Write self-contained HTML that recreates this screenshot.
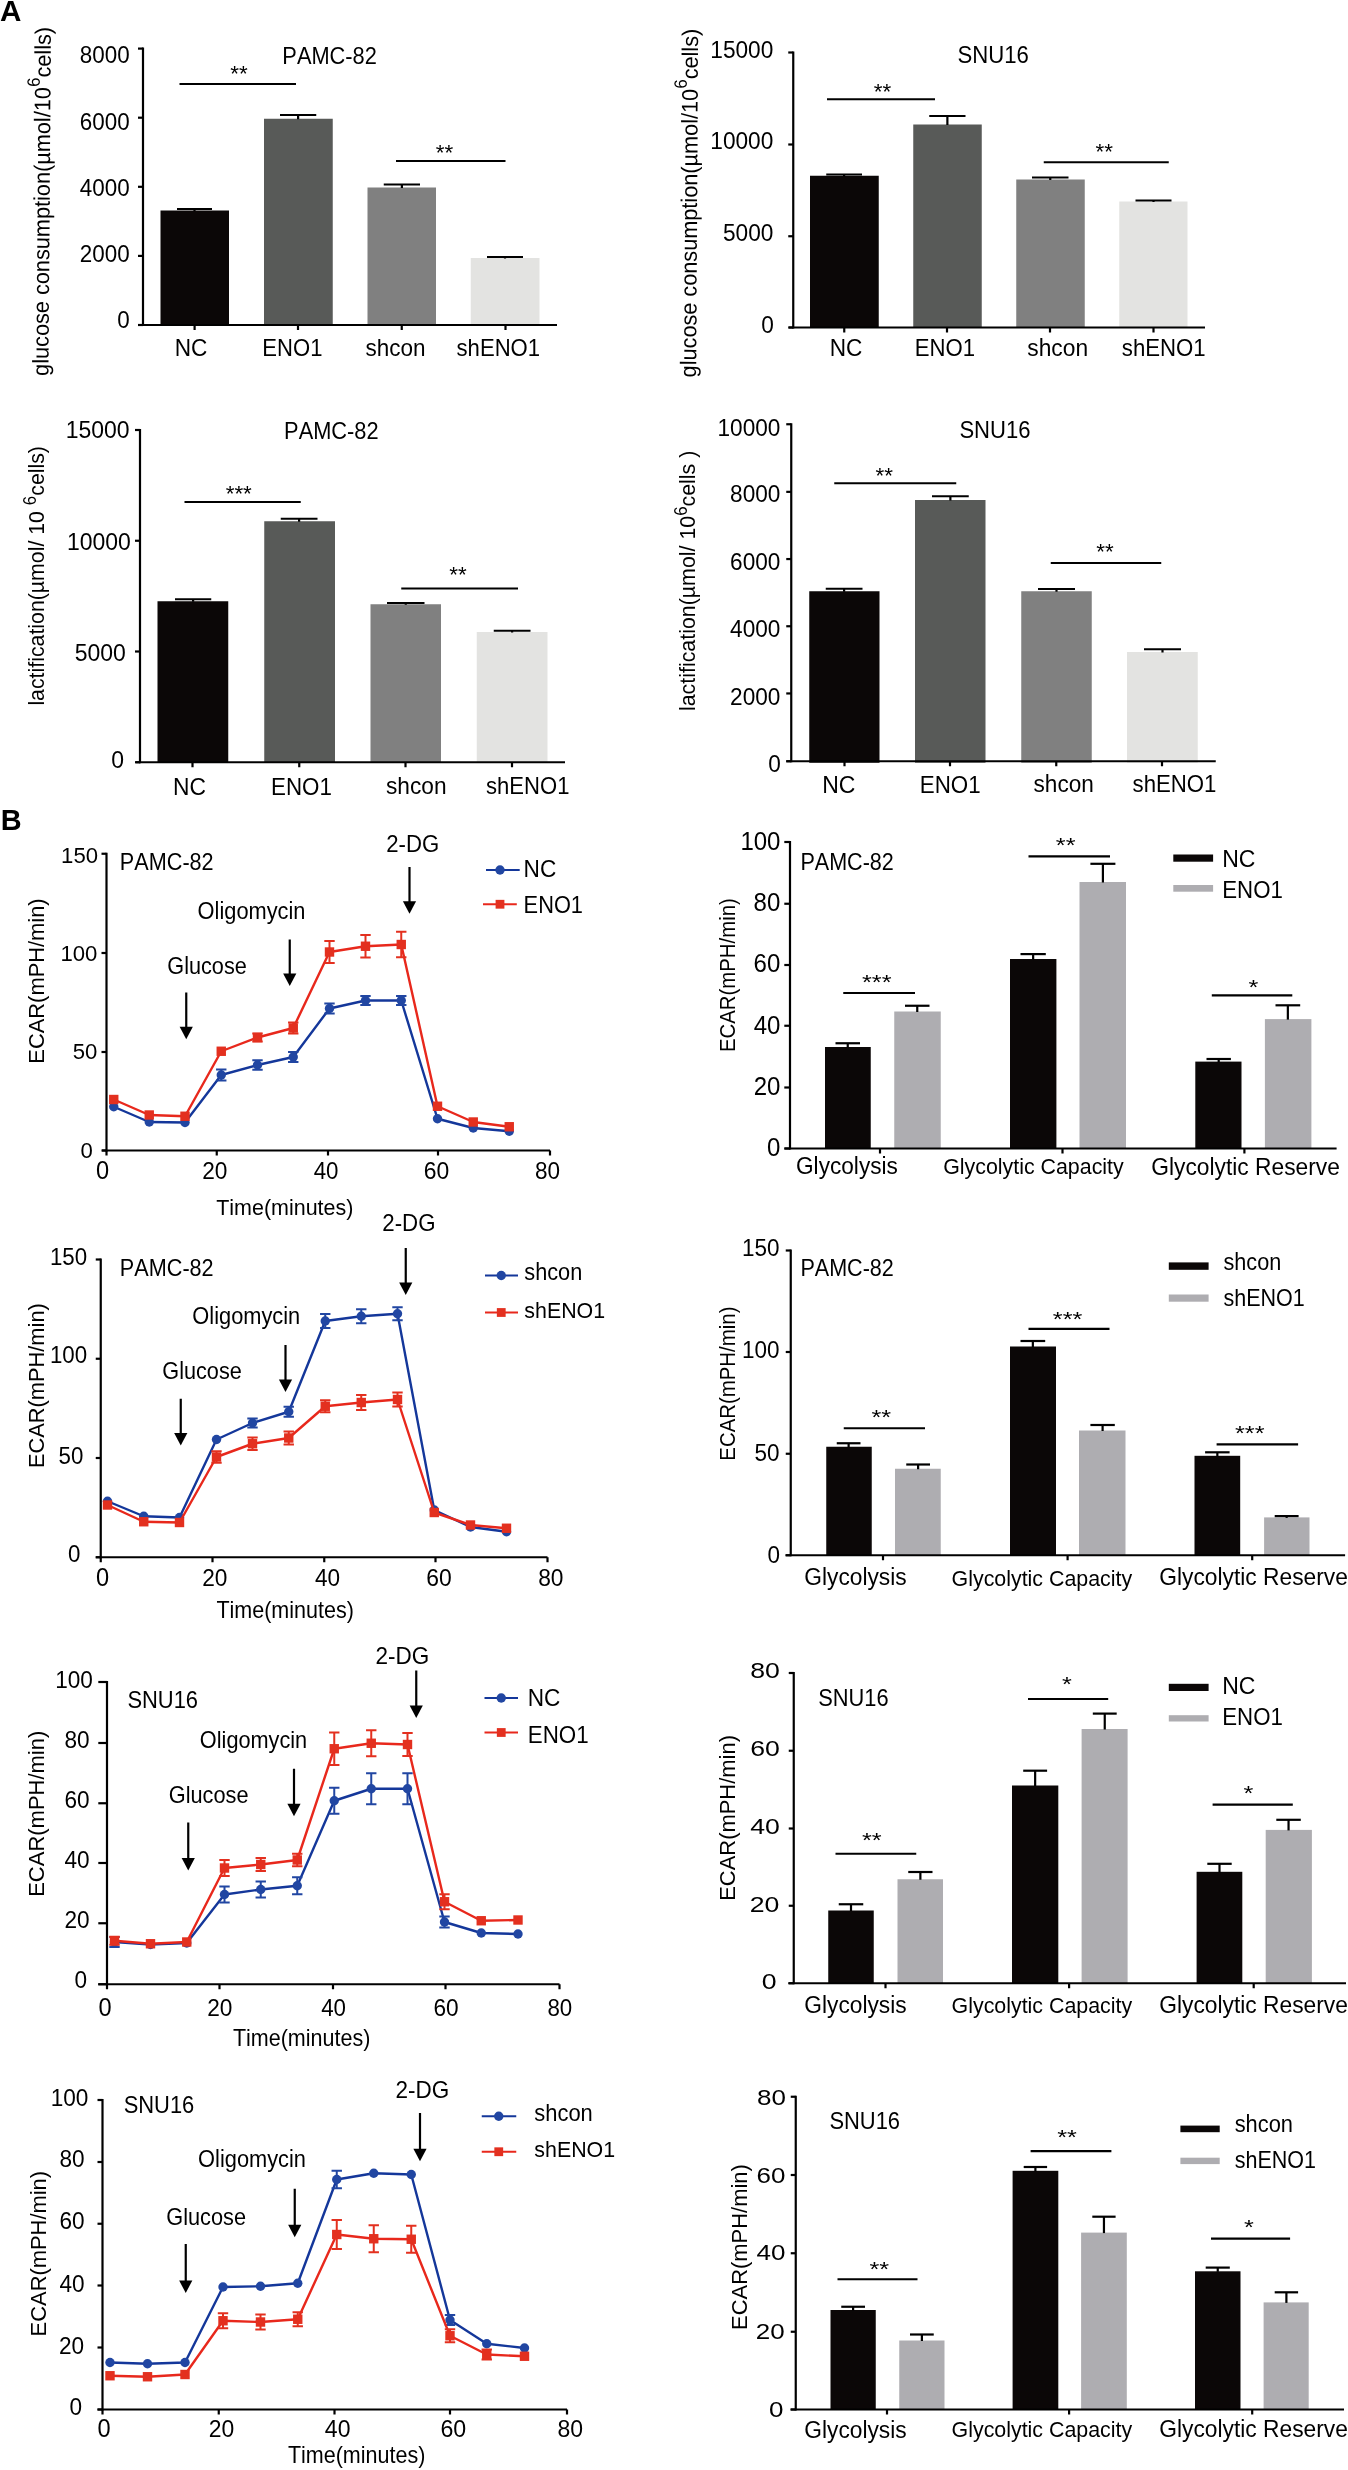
<!DOCTYPE html>
<html><head><meta charset="utf-8"><title>ENO1 glycolysis figure</title>
<style>
html,body{margin:0;padding:0;background:#fff;}
svg{display:block;}
text{font-family:"Liberation Sans",sans-serif;font-kerning:none;}
svg{will-change:transform;}
</style></head><body>
<svg width="1348" height="2470" viewBox="0 0 1348 2470"><rect width="1348" height="2470" fill="#fff"/><text x="-0.04" y="21.3" font-size="29.6" font-weight="bold" fill="#000">A</text>
<text x="0.67" y="830.3" font-size="28.9" font-weight="bold" fill="#000">B</text>
<rect x="160.5" y="210.5" width="68.5" height="114.5" fill="#0b0707"/>
<rect x="264" y="118.75" width="68.75" height="206.25" fill="#585a58"/>
<rect x="367.5" y="187.5" width="68.5" height="137.5" fill="#808080"/>
<rect x="470.75" y="258" width="68.75" height="67" fill="#e3e3e1"/>
<line x1="177" y1="209" x2="212" y2="209" stroke="#000" stroke-width="2.2"/>
<line x1="194.5" y1="209" x2="194.5" y2="211" stroke="#000" stroke-width="2.2"/>
<line x1="280" y1="115" x2="316.25" y2="115" stroke="#000" stroke-width="2.2"/>
<line x1="298.12" y1="115" x2="298.12" y2="119.25" stroke="#000" stroke-width="2.2"/>
<line x1="383.75" y1="184.5" x2="420" y2="184.5" stroke="#000" stroke-width="2.2"/>
<line x1="401.88" y1="184.5" x2="401.88" y2="188" stroke="#000" stroke-width="2.2"/>
<line x1="487" y1="257" x2="523" y2="257" stroke="#000" stroke-width="2.2"/>
<line x1="505" y1="257" x2="505" y2="258.5" stroke="#000" stroke-width="2.2"/>
<line x1="143" y1="47.5" x2="143" y2="326.1" stroke="#000" stroke-width="2.2"/>
<line x1="138.4" y1="325" x2="557" y2="325" stroke="#000" stroke-width="2.2"/>
<line x1="138" y1="48.6" x2="143" y2="48.6" stroke="#000" stroke-width="2.2"/>
<line x1="138" y1="117.7" x2="143" y2="117.7" stroke="#000" stroke-width="2.2"/>
<line x1="138" y1="186.8" x2="143" y2="186.8" stroke="#000" stroke-width="2.2"/>
<line x1="138" y1="255.9" x2="143" y2="255.9" stroke="#000" stroke-width="2.2"/>
<line x1="138" y1="325" x2="143" y2="325" stroke="#000" stroke-width="2.2"/>
<line x1="194.6" y1="325" x2="194.6" y2="330" stroke="#000" stroke-width="2.2"/>
<line x1="298" y1="325" x2="298" y2="330" stroke="#000" stroke-width="2.2"/>
<line x1="401.75" y1="325" x2="401.75" y2="330" stroke="#000" stroke-width="2.2"/>
<line x1="505.5" y1="325" x2="505.5" y2="330" stroke="#000" stroke-width="2.2"/>
<text transform="translate(79.84 63.4) scale(1.0000 1.0700)" font-size="22.4" fill="#000">8000</text>
<text transform="translate(79.84 129.7) scale(1.0000 1.0700)" font-size="22.4" fill="#000">6000</text>
<text transform="translate(79.84 196.2) scale(1.0000 1.0700)" font-size="22.4" fill="#000">4000</text>
<text transform="translate(79.84 262.3) scale(1.0000 1.0700)" font-size="22.4" fill="#000">2000</text>
<text transform="translate(117.22 328.4) scale(1.0000 1.0700)" font-size="22.4" fill="#000">0</text>
<text transform="translate(174.79 355.75) scale(1.0000 1.0700)" font-size="22.62" fill="#000">NC</text>
<text transform="translate(262.34 355.75) scale(1.0000 1.0700)" font-size="22.07" fill="#000">ENO1</text>
<text transform="translate(365.52 355.75) scale(1.0000 1.0700)" font-size="22.5" fill="#000">shcon</text>
<text transform="translate(456.53 355.75) scale(1.0000 1.0700)" font-size="22.13" fill="#000">shENO1</text>
<line x1="179.5" y1="84" x2="296" y2="84" stroke="#000" stroke-width="2.2"/>
<text transform="translate(239 65.9) scale(1.000 1.000)" x="-8.72" y="15.41" font-size="22.4" fill="#000">**</text>
<line x1="396" y1="161" x2="505.5" y2="161" stroke="#000" stroke-width="2.2"/>
<text transform="translate(444.5 144.4) scale(1.000 1.000)" x="-8.72" y="15.41" font-size="22.4" fill="#000">**</text>
<text transform="translate(282.36 64.25) scale(1.0000 1.0700)" font-size="21.82" fill="#000">PAMC-82</text>
<text transform="translate(48.4 375) rotate(-89.580) scale(0.9564 1)" x="-0.95" y="0" fill="#000"><tspan font-size="22.7">glucose consumption(µmol/10</tspan><tspan font-size="17.93" dy="-10.8">6</tspan><tspan font-size="22.7" dy="10.8">cells)</tspan></text>
<rect x="810" y="175.75" width="68.75" height="151.75" fill="#0b0707"/>
<rect x="913.25" y="124.5" width="68.5" height="203" fill="#585a58"/>
<rect x="1016.25" y="179.5" width="68.5" height="148" fill="#808080"/>
<rect x="1119.25" y="201.5" width="68.25" height="126" fill="#e3e3e1"/>
<line x1="826.25" y1="174.5" x2="862" y2="174.5" stroke="#000" stroke-width="2.2"/>
<line x1="844.12" y1="174.5" x2="844.12" y2="176.25" stroke="#000" stroke-width="2.2"/>
<line x1="929.25" y1="116" x2="965.5" y2="116" stroke="#000" stroke-width="2.2"/>
<line x1="947.38" y1="116" x2="947.38" y2="125" stroke="#000" stroke-width="2.2"/>
<line x1="1032" y1="177.5" x2="1068.5" y2="177.5" stroke="#000" stroke-width="2.2"/>
<line x1="1050.25" y1="177.5" x2="1050.25" y2="180" stroke="#000" stroke-width="2.2"/>
<line x1="1135.5" y1="200.5" x2="1171.5" y2="200.5" stroke="#000" stroke-width="2.2"/>
<line x1="1153.5" y1="200.5" x2="1153.5" y2="202" stroke="#000" stroke-width="2.2"/>
<line x1="793.25" y1="51.4" x2="793.25" y2="328.6" stroke="#000" stroke-width="2.2"/>
<line x1="788.75" y1="327.5" x2="1205" y2="327.5" stroke="#000" stroke-width="2.2"/>
<line x1="788.25" y1="52.5" x2="793.25" y2="52.5" stroke="#000" stroke-width="2.2"/>
<line x1="788.25" y1="144.5" x2="793.25" y2="144.5" stroke="#000" stroke-width="2.2"/>
<line x1="788.25" y1="236.25" x2="793.25" y2="236.25" stroke="#000" stroke-width="2.2"/>
<line x1="788.25" y1="327.5" x2="793.25" y2="327.5" stroke="#000" stroke-width="2.2"/>
<line x1="844.25" y1="327.5" x2="844.25" y2="332.5" stroke="#000" stroke-width="2.2"/>
<line x1="947" y1="327.5" x2="947" y2="332.5" stroke="#000" stroke-width="2.2"/>
<line x1="1050" y1="327.5" x2="1050" y2="332.5" stroke="#000" stroke-width="2.2"/>
<line x1="1153.5" y1="327.5" x2="1153.5" y2="332.5" stroke="#000" stroke-width="2.2"/>
<text transform="translate(710.26 57.5) scale(1.0000 1.0700)" font-size="22.7" fill="#000">15000</text>
<text transform="translate(710.26 149.25) scale(1.0000 1.0700)" font-size="22.7" fill="#000">10000</text>
<text transform="translate(722.89 240.75) scale(1.0000 1.0700)" font-size="22.7" fill="#000">5000</text>
<text transform="translate(761.26 332.5) scale(1.0000 1.0700)" font-size="22.7" fill="#000">0</text>
<text transform="translate(829.79 355.5) scale(1.0000 1.0700)" font-size="22.62" fill="#000">NC</text>
<text transform="translate(914.83 355.5) scale(1.0000 1.0700)" font-size="22.16" fill="#000">ENO1</text>
<text transform="translate(1027.27 355.5) scale(1.0000 1.0700)" font-size="22.79" fill="#000">shcon</text>
<text transform="translate(1121.78 355.5) scale(1.0000 1.0700)" font-size="22.2" fill="#000">shENO1</text>
<line x1="827" y1="99.25" x2="935" y2="99.25" stroke="#000" stroke-width="2.2"/>
<text transform="translate(882.5 83.4) scale(1.000 1.000)" x="-8.72" y="15.41" font-size="22.4" fill="#000">**</text>
<line x1="1043.75" y1="162.25" x2="1168.75" y2="162.25" stroke="#000" stroke-width="2.2"/>
<text transform="translate(1104.25 143.9) scale(1.000 1.000)" x="-8.72" y="15.41" font-size="22.4" fill="#000">**</text>
<text transform="translate(957.39 63) scale(1.0000 1.0700)" font-size="22.16" fill="#000">SNU16</text>
<text transform="translate(696.1 376.5) rotate(-89.670) scale(0.9561 1)" x="-0.95" y="0" fill="#000"><tspan font-size="22.7">glucose consumption(µmol/10</tspan><tspan font-size="17.93" dy="-11">6</tspan><tspan font-size="22.7" dy="11">cells)</tspan></text>
<rect x="157.5" y="601.25" width="70.75" height="161" fill="#0b0707"/>
<rect x="264.25" y="521.25" width="70.75" height="241" fill="#585a58"/>
<rect x="370.5" y="604.25" width="70.5" height="158" fill="#808080"/>
<rect x="476.75" y="632" width="70.75" height="130.25" fill="#e3e3e1"/>
<line x1="175" y1="599.25" x2="211.25" y2="599.25" stroke="#000" stroke-width="2.2"/>
<line x1="193.12" y1="599.25" x2="193.12" y2="601.75" stroke="#000" stroke-width="2.2"/>
<line x1="280.75" y1="518.75" x2="317.5" y2="518.75" stroke="#000" stroke-width="2.2"/>
<line x1="299.12" y1="518.75" x2="299.12" y2="521.75" stroke="#000" stroke-width="2.2"/>
<line x1="387" y1="603" x2="424.5" y2="603" stroke="#000" stroke-width="2.2"/>
<line x1="405.75" y1="603" x2="405.75" y2="604.75" stroke="#000" stroke-width="2.2"/>
<line x1="493.75" y1="630.75" x2="530.5" y2="630.75" stroke="#000" stroke-width="2.2"/>
<line x1="512.12" y1="630.75" x2="512.12" y2="632.5" stroke="#000" stroke-width="2.2"/>
<line x1="140" y1="428.9" x2="140" y2="763.35" stroke="#000" stroke-width="2.2"/>
<line x1="135.75" y1="762.25" x2="565" y2="762.25" stroke="#000" stroke-width="2.2"/>
<line x1="135" y1="430" x2="140" y2="430" stroke="#000" stroke-width="2.2"/>
<line x1="135" y1="540.75" x2="140" y2="540.75" stroke="#000" stroke-width="2.2"/>
<line x1="135" y1="651.5" x2="140" y2="651.5" stroke="#000" stroke-width="2.2"/>
<line x1="135" y1="762.25" x2="140" y2="762.25" stroke="#000" stroke-width="2.2"/>
<line x1="192.5" y1="762.25" x2="192.5" y2="767.25" stroke="#000" stroke-width="2.2"/>
<line x1="299.25" y1="762.25" x2="299.25" y2="767.25" stroke="#000" stroke-width="2.2"/>
<line x1="405.5" y1="762.25" x2="405.5" y2="767.25" stroke="#000" stroke-width="2.2"/>
<line x1="512" y1="762.25" x2="512" y2="767.25" stroke="#000" stroke-width="2.2"/>
<text transform="translate(65.69 437.5) scale(1.0000 1.0700)" font-size="23" fill="#000">15000</text>
<text transform="translate(66.94 549.5) scale(1.0000 1.0700)" font-size="23" fill="#000">10000</text>
<text transform="translate(74.73 661.25) scale(1.0000 1.0700)" font-size="23" fill="#000">5000</text>
<text transform="translate(111.36 767.5) scale(1.0000 1.0700)" font-size="23" fill="#000">0</text>
<text transform="translate(173.03 794.5) scale(1.0000 1.0700)" font-size="22.81" fill="#000">NC</text>
<text transform="translate(271.07 794.5) scale(1.0000 1.0700)" font-size="22.35" fill="#000">ENO1</text>
<text transform="translate(386.02 793.75) scale(1.0000 1.0700)" font-size="22.69" fill="#000">shcon</text>
<text transform="translate(486.04 793.75) scale(1.0000 1.0700)" font-size="22.07" fill="#000">shENO1</text>
<line x1="184.5" y1="502" x2="300.75" y2="502" stroke="#000" stroke-width="2.2"/>
<text transform="translate(238.75 485.15) scale(1.000 1.000)" x="-13.08" y="15.41" font-size="22.4" fill="#000">***</text>
<line x1="401.25" y1="588.5" x2="518" y2="588.5" stroke="#000" stroke-width="2.2"/>
<text transform="translate(458 566.9) scale(1.000 1.000)" x="-8.72" y="15.41" font-size="22.4" fill="#000">**</text>
<text transform="translate(284.11 438.75) scale(1.0000 1.0700)" font-size="21.82" fill="#000">PAMC-82</text>
<text transform="translate(44.2 704.2) rotate(-90.000) scale(0.9559 1)" x="-1.5" y="0" fill="#000"><tspan font-size="22.3">lactification(µmol/ 10 </tspan><tspan font-size="17.62" dy="-8.6">6</tspan><tspan font-size="22.3" dy="8.6">cells)</tspan></text>
<rect x="809.25" y="591.25" width="70.25" height="171.5" fill="#0b0707"/>
<rect x="915" y="500" width="70.5" height="262.75" fill="#585a58"/>
<rect x="1021.25" y="591.25" width="70.5" height="171.5" fill="#808080"/>
<rect x="1127" y="652" width="70.75" height="110.75" fill="#e3e3e1"/>
<line x1="825.75" y1="588.75" x2="862.5" y2="588.75" stroke="#000" stroke-width="2.2"/>
<line x1="844.12" y1="588.75" x2="844.12" y2="591.75" stroke="#000" stroke-width="2.2"/>
<line x1="932" y1="496.25" x2="968.75" y2="496.25" stroke="#000" stroke-width="2.2"/>
<line x1="950.38" y1="496.25" x2="950.38" y2="500.5" stroke="#000" stroke-width="2.2"/>
<line x1="1038" y1="589" x2="1075" y2="589" stroke="#000" stroke-width="2.2"/>
<line x1="1056.5" y1="589" x2="1056.5" y2="591.75" stroke="#000" stroke-width="2.2"/>
<line x1="1144" y1="649.25" x2="1181" y2="649.25" stroke="#000" stroke-width="2.2"/>
<line x1="1162.5" y1="649.25" x2="1162.5" y2="652.5" stroke="#000" stroke-width="2.2"/>
<line x1="791.25" y1="423.15" x2="791.25" y2="762.35" stroke="#000" stroke-width="2.2"/>
<line x1="786.25" y1="761.25" x2="1215.75" y2="761.25" stroke="#000" stroke-width="2.2"/>
<line x1="786.25" y1="424.25" x2="791.25" y2="424.25" stroke="#000" stroke-width="2.2"/>
<line x1="786.25" y1="491.85" x2="791.25" y2="491.85" stroke="#000" stroke-width="2.2"/>
<line x1="786.25" y1="559.05" x2="791.25" y2="559.05" stroke="#000" stroke-width="2.2"/>
<line x1="786.25" y1="626.25" x2="791.25" y2="626.25" stroke="#000" stroke-width="2.2"/>
<line x1="786.25" y1="693.45" x2="791.25" y2="693.45" stroke="#000" stroke-width="2.2"/>
<line x1="786.25" y1="761.25" x2="791.25" y2="761.25" stroke="#000" stroke-width="2.2"/>
<line x1="844.5" y1="761.25" x2="844.5" y2="766.25" stroke="#000" stroke-width="2.2"/>
<line x1="950" y1="761.25" x2="950" y2="766.25" stroke="#000" stroke-width="2.2"/>
<line x1="1056.25" y1="761.25" x2="1056.25" y2="766.25" stroke="#000" stroke-width="2.2"/>
<line x1="1162" y1="761.25" x2="1162" y2="766.25" stroke="#000" stroke-width="2.2"/>
<text transform="translate(717.54 436) scale(1.0000 1.0700)" font-size="22.6" fill="#000">10000</text>
<text transform="translate(730.11 502) scale(1.0000 1.0700)" font-size="22.6" fill="#000">8000</text>
<text transform="translate(730.11 569.5) scale(1.0000 1.0700)" font-size="22.6" fill="#000">6000</text>
<text transform="translate(730.11 637) scale(1.0000 1.0700)" font-size="22.6" fill="#000">4000</text>
<text transform="translate(730.11 704.5) scale(1.0000 1.0700)" font-size="22.6" fill="#000">2000</text>
<text transform="translate(768.31 772) scale(1.0000 1.0700)" font-size="22.6" fill="#000">0</text>
<text transform="translate(822.26 792.5) scale(1.0000 1.0700)" font-size="22.99" fill="#000">NC</text>
<text transform="translate(919.82 792.5) scale(1.0000 1.0700)" font-size="22.35" fill="#000">ENO1</text>
<text transform="translate(1033.52 792) scale(1.0000 1.0700)" font-size="22.6" fill="#000">shcon</text>
<text transform="translate(1132.53 792) scale(1.0000 1.0700)" font-size="22.2" fill="#000">shENO1</text>
<line x1="834.25" y1="483.25" x2="956.25" y2="483.25" stroke="#000" stroke-width="2.2"/>
<text transform="translate(884.25 467.15) scale(1.000 1.000)" x="-8.72" y="15.41" font-size="22.4" fill="#000">**</text>
<line x1="1050.75" y1="563" x2="1161.25" y2="563" stroke="#000" stroke-width="2.2"/>
<text transform="translate(1105 543.9) scale(1.000 1.000)" x="-8.72" y="15.41" font-size="22.4" fill="#000">**</text>
<text transform="translate(959.4 437.5) scale(1.0000 1.0700)" font-size="22.08" fill="#000">SNU16</text>
<text transform="translate(695 709.6) rotate(-90.000) scale(0.9592 1)" x="-1.5" y="0" fill="#000"><tspan font-size="22.3">lactification(µmol/ 10</tspan><tspan font-size="17.62" dy="-8">6</tspan><tspan font-size="22.3" dy="8">cells )</tspan></text>
<line x1="106.5" y1="852.65" x2="106.5" y2="1151.6" stroke="#000" stroke-width="2.2"/>
<line x1="102" y1="1150.5" x2="550" y2="1150.5" stroke="#000" stroke-width="2.2"/>
<line x1="101.5" y1="853.75" x2="106.5" y2="853.75" stroke="#000" stroke-width="2.2"/>
<line x1="101.5" y1="953" x2="106.5" y2="953" stroke="#000" stroke-width="2.2"/>
<line x1="101.5" y1="1052" x2="106.5" y2="1052" stroke="#000" stroke-width="2.2"/>
<line x1="101.5" y1="1150.5" x2="106.5" y2="1150.5" stroke="#000" stroke-width="2.2"/>
<line x1="106.5" y1="1150.5" x2="106.5" y2="1155.5" stroke="#000" stroke-width="2.2"/>
<line x1="216.75" y1="1150.5" x2="216.75" y2="1155.5" stroke="#000" stroke-width="2.2"/>
<line x1="328" y1="1150.5" x2="328" y2="1155.5" stroke="#000" stroke-width="2.2"/>
<line x1="438" y1="1150.5" x2="438" y2="1155.5" stroke="#000" stroke-width="2.2"/>
<line x1="550" y1="1150.5" x2="550" y2="1155.5" stroke="#000" stroke-width="2.2"/>
<text transform="translate(61.11 862.6) scale(0.9800 1.0000)" font-size="22.6" fill="#000">150</text>
<text transform="translate(60.41 961) scale(0.9800 1.0000)" font-size="22.6" fill="#000">100</text>
<text transform="translate(72.73 1059) scale(0.9800 1.0000)" font-size="22.6" fill="#000">50</text>
<text transform="translate(80.55 1157.5) scale(0.9800 1.0000)" font-size="22.6" fill="#000">0</text>
<text transform="translate(95.94 1178.5) scale(1.0000 1.0700)" font-size="23.6" fill="#000">0</text>
<text transform="translate(202.26 1178.5) scale(1.0000 1.0700)" font-size="22.68" fill="#000">20</text>
<text transform="translate(313.64 1178.5) scale(1.0000 1.0700)" font-size="22.33" fill="#000">40</text>
<text transform="translate(423.74 1178.5) scale(1.0000 1.0700)" font-size="22.93" fill="#000">60</text>
<text transform="translate(534.92 1178.5) scale(1.0000 1.0700)" font-size="22.53" fill="#000">80</text>
<text transform="translate(216.17 1215) scale(1.0000 1.0700)" font-size="21.48" fill="#000">Time(minutes)</text>
<text transform="translate(119.87 870) scale(1.0000 1.0700)" font-size="21.64" fill="#000">PAMC-82</text>
<text transform="translate(197.62 918.75) scale(1.0000 1.0700)" font-size="21.82" fill="#000">Oligomycin</text>
<text transform="translate(167.31 973.75) scale(1.0000 1.0700)" font-size="21.67" fill="#000">Glucose</text>
<text transform="translate(386.28 852) scale(1.0000 1.0700)" font-size="22.17" fill="#000">2-DG</text>
<line x1="186.25" y1="992.5" x2="186.25" y2="1027.75" stroke="#000" stroke-width="2.2"/>
<path d="M179.65 1026.75L192.85 1026.75L186.25 1039.25Z" fill="#000"/>
<line x1="289.75" y1="939.5" x2="289.75" y2="974.5" stroke="#000" stroke-width="2.2"/>
<path d="M283.15 973.5L296.35 973.5L289.75 986Z" fill="#000"/>
<line x1="409.5" y1="867" x2="409.5" y2="902.25" stroke="#000" stroke-width="2.2"/>
<path d="M402.9 901.25L416.1 901.25L409.5 913.75Z" fill="#000"/>
<polyline points="113.75,1106.75 149.25,1122 185,1122.5 221.25,1075 257.5,1065 293.25,1057 329.5,1008.5 365.5,1000.5 401.25,1000.5 437.5,1118.75 473.25,1128 509.25,1131.25" fill="none" stroke="#14379a" stroke-width="2.4" stroke-linejoin="round"/>
<circle cx="113.75" cy="1106.75" r="4.7" fill="#2146a2"/>
<circle cx="149.25" cy="1122" r="4.7" fill="#2146a2"/>
<circle cx="185" cy="1122.5" r="4.7" fill="#2146a2"/>
<path d="M221.25 1069.5V1080.5M216.05 1069.5H226.45M216.05 1080.5H226.45" stroke="#2146a2" stroke-width="2"/>
<circle cx="221.25" cy="1075" r="4.7" fill="#2146a2"/>
<path d="M257.5 1060.25V1069.75M252.3 1060.25H262.7M252.3 1069.75H262.7" stroke="#2146a2" stroke-width="2"/>
<circle cx="257.5" cy="1065" r="4.7" fill="#2146a2"/>
<path d="M293.25 1052V1062M288.05 1052H298.45M288.05 1062H298.45" stroke="#2146a2" stroke-width="2"/>
<circle cx="293.25" cy="1057" r="4.7" fill="#2146a2"/>
<path d="M329.5 1003.5V1013.5M324.3 1003.5H334.7M324.3 1013.5H334.7" stroke="#2146a2" stroke-width="2"/>
<circle cx="329.5" cy="1008.5" r="4.7" fill="#2146a2"/>
<path d="M365.5 996V1005M360.3 996H370.7M360.3 1005H370.7" stroke="#2146a2" stroke-width="2"/>
<circle cx="365.5" cy="1000.5" r="4.7" fill="#2146a2"/>
<path d="M401.25 996V1005M396.05 996H406.45M396.05 1005H406.45" stroke="#2146a2" stroke-width="2"/>
<circle cx="401.25" cy="1000.5" r="4.7" fill="#2146a2"/>
<circle cx="437.5" cy="1118.75" r="4.7" fill="#2146a2"/>
<circle cx="473.25" cy="1128" r="4.7" fill="#2146a2"/>
<circle cx="509.25" cy="1131.25" r="4.7" fill="#2146a2"/>
<polyline points="113.75,1099.5 149.25,1115 185,1116.25 221.25,1051.25 257.5,1037.5 293.25,1028 329.5,952 365.5,946.25 401.25,944.5 437.5,1106.25 473.25,1122 509.25,1126.75" fill="none" stroke="#e8281c" stroke-width="2.4" stroke-linejoin="round"/>
<rect x="109.05" y="1094.8" width="9.4" height="9.4" fill="#e3301f"/>
<rect x="144.55" y="1110.3" width="9.4" height="9.4" fill="#e3301f"/>
<rect x="180.3" y="1111.55" width="9.4" height="9.4" fill="#e3301f"/>
<rect x="216.55" y="1046.55" width="9.4" height="9.4" fill="#e3301f"/>
<path d="M257.5 1033.5V1041.5M252.3 1033.5H262.7M252.3 1041.5H262.7" stroke="#e3301f" stroke-width="2"/>
<rect x="252.8" y="1032.8" width="9.4" height="9.4" fill="#e3301f"/>
<path d="M293.25 1022.4V1033.6M288.05 1022.4H298.45M288.05 1033.6H298.45" stroke="#e3301f" stroke-width="2"/>
<rect x="288.55" y="1023.3" width="9.4" height="9.4" fill="#e3301f"/>
<path d="M329.5 941V963M324.3 941H334.7M324.3 963H334.7" stroke="#e3301f" stroke-width="2"/>
<rect x="324.8" y="947.3" width="9.4" height="9.4" fill="#e3301f"/>
<path d="M365.5 935V957.5M360.3 935H370.7M360.3 957.5H370.7" stroke="#e3301f" stroke-width="2"/>
<rect x="360.8" y="941.55" width="9.4" height="9.4" fill="#e3301f"/>
<path d="M401.25 931.75V957.25M396.05 931.75H406.45M396.05 957.25H406.45" stroke="#e3301f" stroke-width="2"/>
<rect x="396.55" y="939.8" width="9.4" height="9.4" fill="#e3301f"/>
<rect x="432.8" y="1101.55" width="9.4" height="9.4" fill="#e3301f"/>
<rect x="468.55" y="1117.3" width="9.4" height="9.4" fill="#e3301f"/>
<rect x="504.55" y="1122.05" width="9.4" height="9.4" fill="#e3301f"/>
<line x1="486" y1="870" x2="519.7" y2="870" stroke="#14379a" stroke-width="2.2"/>
<circle cx="500" cy="870" r="4.7" fill="#2146a2"/>
<text transform="translate(523.54 877.2) scale(1.0000 1.0700)" font-size="22.65" fill="#000">NC</text>
<line x1="483" y1="904.25" x2="516.8" y2="904.25" stroke="#e8281c" stroke-width="2.2"/>
<rect x="495.6" y="899.85" width="8.8" height="8.8" fill="#e3301f"/>
<text transform="translate(523.61 913) scale(1.0000 1.0700)" font-size="21.8" fill="#000">ENO1</text>
<text transform="translate(43.9 1061.9) rotate(-90.000) scale(0.9732 1)" x="-1.85" y="0" fill="#000"><tspan font-size="22.5">ECAR(mPH/min)</tspan></text>
<rect x="825" y="1047" width="45.75" height="101.5" fill="#0b0707"/>
<rect x="894.25" y="1011.5" width="46.5" height="137" fill="#aeadb1"/>
<rect x="1010" y="959" width="46.4" height="189.5" fill="#0b0707"/>
<rect x="1079.5" y="882" width="46.5" height="266.5" fill="#aeadb1"/>
<rect x="1195.3" y="1061.6" width="46.2" height="86.9" fill="#0b0707"/>
<rect x="1264.9" y="1019.1" width="46.5" height="129.4" fill="#aeadb1"/>
<line x1="835.5" y1="1043.25" x2="860" y2="1043.25" stroke="#000" stroke-width="2.2"/>
<line x1="847.75" y1="1043.25" x2="847.75" y2="1047.5" stroke="#000" stroke-width="2.2"/>
<line x1="905" y1="1005.75" x2="929.5" y2="1005.75" stroke="#000" stroke-width="2.2"/>
<line x1="917.25" y1="1005.75" x2="917.25" y2="1012" stroke="#000" stroke-width="2.2"/>
<line x1="1020.5" y1="954.1" x2="1045.8" y2="954.1" stroke="#000" stroke-width="2.2"/>
<line x1="1033.15" y1="954.1" x2="1033.15" y2="959.5" stroke="#000" stroke-width="2.2"/>
<line x1="1090.4" y1="863.8" x2="1115.4" y2="863.8" stroke="#000" stroke-width="2.2"/>
<line x1="1102.9" y1="863.8" x2="1102.9" y2="882.5" stroke="#000" stroke-width="2.2"/>
<line x1="1206.5" y1="1059" x2="1230.9" y2="1059" stroke="#000" stroke-width="2.2"/>
<line x1="1218.7" y1="1059" x2="1218.7" y2="1062.1" stroke="#000" stroke-width="2.2"/>
<line x1="1275.5" y1="1005.3" x2="1300.2" y2="1005.3" stroke="#000" stroke-width="2.2"/>
<line x1="1287.85" y1="1005.3" x2="1287.85" y2="1019.6" stroke="#000" stroke-width="2.2"/>
<line x1="790" y1="840.9" x2="790" y2="1149.6" stroke="#000" stroke-width="2.2"/>
<line x1="784.5" y1="1148.5" x2="1336.6" y2="1148.5" stroke="#000" stroke-width="2.2"/>
<line x1="784.3" y1="842" x2="790" y2="842" stroke="#000" stroke-width="2.2"/>
<line x1="784.3" y1="903.75" x2="790" y2="903.75" stroke="#000" stroke-width="2.2"/>
<line x1="784.3" y1="965" x2="790" y2="965" stroke="#000" stroke-width="2.2"/>
<line x1="784.3" y1="1025.75" x2="790" y2="1025.75" stroke="#000" stroke-width="2.2"/>
<line x1="784.3" y1="1087.5" x2="790" y2="1087.5" stroke="#000" stroke-width="2.2"/>
<line x1="784.3" y1="1148.5" x2="790" y2="1148.5" stroke="#000" stroke-width="2.2"/>
<line x1="880" y1="1148.5" x2="880" y2="1153.5" stroke="#000" stroke-width="2.2"/>
<line x1="1062.5" y1="1148.5" x2="1062.5" y2="1153.5" stroke="#000" stroke-width="2.2"/>
<line x1="1244.4" y1="1148.5" x2="1244.4" y2="1153.5" stroke="#000" stroke-width="2.2"/>
<text transform="translate(740.39 849.9) scale(1.0000 1.0700)" font-size="24" fill="#000">100</text>
<text transform="translate(753.54 910.9) scale(1.0000 1.0700)" font-size="24" fill="#000">80</text>
<text transform="translate(753.54 972.2) scale(1.0000 1.0700)" font-size="24" fill="#000">60</text>
<text transform="translate(753.74 1033.7) scale(1.0000 1.0700)" font-size="24" fill="#000">40</text>
<text transform="translate(753.74 1094.9) scale(1.0000 1.0700)" font-size="24" fill="#000">20</text>
<text transform="translate(767.09 1155.9) scale(1.0000 1.0700)" font-size="24" fill="#000">0</text>
<text transform="translate(796.01 1173.75) scale(1.0000 1.0700)" font-size="22.64" fill="#000">Glycolysis</text>
<text transform="translate(943.22 1173.9) scale(1.0000 1.0700)" font-size="21.38" fill="#000">Glycolytic Capacity</text>
<text transform="translate(1151.25 1174.8) scale(1.0000 1.0700)" font-size="22.79" fill="#000">Glycolytic Reserve</text>
<line x1="843.25" y1="993" x2="915" y2="993" stroke="#000" stroke-width="2.2"/>
<text transform="translate(876.75 975.2) scale(1.130 0.900)" x="-13.08" y="15.41" font-size="22.4" fill="#000">***</text>
<line x1="1028.5" y1="856.4" x2="1110" y2="856.4" stroke="#000" stroke-width="2.2"/>
<text transform="translate(1065.7 837.7) scale(1.130 0.900)" x="-8.72" y="15.41" font-size="22.4" fill="#000">**</text>
<line x1="1211.8" y1="995.3" x2="1292.3" y2="995.3" stroke="#000" stroke-width="2.2"/>
<text transform="translate(1253.5 979.9) scale(1.130 0.900)" x="-4.36" y="15.41" font-size="22.4" fill="#000">*</text>
<text transform="translate(800.38 870) scale(1.0000 1.0700)" font-size="21.58" fill="#000">PAMC-82</text>
<rect x="1173.3" y="854.5" width="39.8" height="7.2" fill="#0b0707"/>
<text transform="translate(1222.21 866.5) scale(1.0000 1.0700)" font-size="23.03" fill="#000">NC</text>
<rect x="1173.3" y="885" width="39.8" height="6.7" fill="#aeadb1"/>
<text transform="translate(1222.27 897.8) scale(1.0000 1.0700)" font-size="22.26" fill="#000">ENO1</text>
<text transform="translate(735.1 1050.4) rotate(-90.000) scale(0.8942 1)" x="-1.87" y="0" fill="#000"><tspan font-size="22.8">ECAR(mPH/min)</tspan></text>
<line x1="100.75" y1="1258.4" x2="100.75" y2="1558.35" stroke="#000" stroke-width="2.2"/>
<line x1="95.75" y1="1557.25" x2="547.5" y2="1557.25" stroke="#000" stroke-width="2.2"/>
<line x1="95.75" y1="1259.5" x2="100.75" y2="1259.5" stroke="#000" stroke-width="2.2"/>
<line x1="95.75" y1="1358.75" x2="100.75" y2="1358.75" stroke="#000" stroke-width="2.2"/>
<line x1="95.75" y1="1458" x2="100.75" y2="1458" stroke="#000" stroke-width="2.2"/>
<line x1="95.75" y1="1557.25" x2="100.75" y2="1557.25" stroke="#000" stroke-width="2.2"/>
<line x1="100.75" y1="1557.25" x2="100.75" y2="1562.25" stroke="#000" stroke-width="2.2"/>
<line x1="212.5" y1="1557.25" x2="212.5" y2="1562.25" stroke="#000" stroke-width="2.2"/>
<line x1="324.25" y1="1557.25" x2="324.25" y2="1562.25" stroke="#000" stroke-width="2.2"/>
<line x1="435.5" y1="1557.25" x2="435.5" y2="1562.25" stroke="#000" stroke-width="2.2"/>
<line x1="547.5" y1="1557.25" x2="547.5" y2="1562.25" stroke="#000" stroke-width="2.2"/>
<text transform="translate(49.91 1264.5) scale(1.0000 1.0700)" font-size="22.3" fill="#000">150</text>
<text transform="translate(49.91 1363.25) scale(1.0000 1.0700)" font-size="22.3" fill="#000">100</text>
<text transform="translate(58.57 1464) scale(1.0000 1.0700)" font-size="22.3" fill="#000">50</text>
<text transform="translate(67.97 1562) scale(1.0000 1.0700)" font-size="22.3" fill="#000">0</text>
<text transform="translate(95.94 1586.25) scale(1.0000 1.0700)" font-size="23.6" fill="#000">0</text>
<text transform="translate(202.26 1586.25) scale(1.0000 1.0700)" font-size="22.68" fill="#000">20</text>
<text transform="translate(314.88 1586.25) scale(1.0000 1.0700)" font-size="22.57" fill="#000">40</text>
<text transform="translate(426.24 1586.25) scale(1.0000 1.0700)" font-size="22.93" fill="#000">60</text>
<text transform="translate(538.16 1586.25) scale(1.0000 1.0700)" font-size="22.77" fill="#000">80</text>
<text transform="translate(216.42 1617.5) scale(1.0000 1.0700)" font-size="21.52" fill="#000">Time(minutes)</text>
<text transform="translate(119.87 1276.25) scale(1.0000 1.0700)" font-size="21.64" fill="#000">PAMC-82</text>
<text transform="translate(192.37 1324.25) scale(1.0000 1.0700)" font-size="21.82" fill="#000">Oligomycin</text>
<text transform="translate(162.31 1379.25) scale(1.0000 1.0700)" font-size="21.67" fill="#000">Glucose</text>
<text transform="translate(382.28 1231.25) scale(1.0000 1.0700)" font-size="22.28" fill="#000">2-DG</text>
<line x1="180.75" y1="1398.75" x2="180.75" y2="1434" stroke="#000" stroke-width="2.2"/>
<path d="M174.15 1433L187.35 1433L180.75 1445.5Z" fill="#000"/>
<line x1="285.5" y1="1345" x2="285.5" y2="1380.5" stroke="#000" stroke-width="2.2"/>
<path d="M278.9 1379.5L292.1 1379.5L285.5 1392Z" fill="#000"/>
<line x1="405.75" y1="1248" x2="405.75" y2="1283.5" stroke="#000" stroke-width="2.2"/>
<path d="M399.15 1282.5L412.35 1282.5L405.75 1295Z" fill="#000"/>
<polyline points="107.5,1501.25 143.75,1516.25 179.5,1517.5 216.5,1439.5 252.5,1423 288.75,1411.75 325.25,1321 361.25,1316.25 397.5,1313.75 434.25,1510 470.5,1527 506.5,1531.75" fill="none" stroke="#14379a" stroke-width="2.4" stroke-linejoin="round"/>
<circle cx="107.5" cy="1501.25" r="4.7" fill="#2146a2"/>
<circle cx="143.75" cy="1516.25" r="4.7" fill="#2146a2"/>
<circle cx="179.5" cy="1517.5" r="4.7" fill="#2146a2"/>
<circle cx="216.5" cy="1439.5" r="4.7" fill="#2146a2"/>
<path d="M252.5 1418.6V1427.4M247.3 1418.6H257.7M247.3 1427.4H257.7" stroke="#2146a2" stroke-width="2"/>
<circle cx="252.5" cy="1423" r="4.7" fill="#2146a2"/>
<path d="M288.75 1406.75V1416.75M283.55 1406.75H293.95M283.55 1416.75H293.95" stroke="#2146a2" stroke-width="2"/>
<circle cx="288.75" cy="1411.75" r="4.7" fill="#2146a2"/>
<path d="M325.25 1314V1328M320.05 1314H330.45M320.05 1328H330.45" stroke="#2146a2" stroke-width="2"/>
<circle cx="325.25" cy="1321" r="4.7" fill="#2146a2"/>
<path d="M361.25 1309.25V1323.25M356.05 1309.25H366.45M356.05 1323.25H366.45" stroke="#2146a2" stroke-width="2"/>
<circle cx="361.25" cy="1316.25" r="4.7" fill="#2146a2"/>
<path d="M397.5 1307.25V1320.25M392.3 1307.25H402.7M392.3 1320.25H402.7" stroke="#2146a2" stroke-width="2"/>
<circle cx="397.5" cy="1313.75" r="4.7" fill="#2146a2"/>
<circle cx="434.25" cy="1510" r="4.7" fill="#2146a2"/>
<circle cx="470.5" cy="1527" r="4.7" fill="#2146a2"/>
<circle cx="506.5" cy="1531.75" r="4.7" fill="#2146a2"/>
<polyline points="107.5,1505 143.75,1521.75 179.5,1522.5 216.5,1457 252.5,1443.75 288.75,1438 325.25,1406.25 361.25,1402.5 397.5,1399.5 434.25,1512.5 470.5,1525 506.5,1528.25" fill="none" stroke="#e8281c" stroke-width="2.4" stroke-linejoin="round"/>
<rect x="102.8" y="1500.3" width="9.4" height="9.4" fill="#e3301f"/>
<rect x="139.05" y="1517.05" width="9.4" height="9.4" fill="#e3301f"/>
<rect x="174.8" y="1517.8" width="9.4" height="9.4" fill="#e3301f"/>
<path d="M216.5 1451.25V1462.75M211.3 1451.25H221.7M211.3 1462.75H221.7" stroke="#e3301f" stroke-width="2"/>
<rect x="211.8" y="1452.3" width="9.4" height="9.4" fill="#e3301f"/>
<path d="M252.5 1437.5V1450M247.3 1437.5H257.7M247.3 1450H257.7" stroke="#e3301f" stroke-width="2"/>
<rect x="247.8" y="1439.05" width="9.4" height="9.4" fill="#e3301f"/>
<path d="M288.75 1431.4V1444.6M283.55 1431.4H293.95M283.55 1444.6H293.95" stroke="#e3301f" stroke-width="2"/>
<rect x="284.05" y="1433.3" width="9.4" height="9.4" fill="#e3301f"/>
<path d="M325.25 1400.25V1412.25M320.05 1400.25H330.45M320.05 1412.25H330.45" stroke="#e3301f" stroke-width="2"/>
<rect x="320.55" y="1401.55" width="9.4" height="9.4" fill="#e3301f"/>
<path d="M361.25 1395V1410M356.05 1395H366.45M356.05 1410H366.45" stroke="#e3301f" stroke-width="2"/>
<rect x="356.55" y="1397.8" width="9.4" height="9.4" fill="#e3301f"/>
<path d="M397.5 1392.5V1406.5M392.3 1392.5H402.7M392.3 1406.5H402.7" stroke="#e3301f" stroke-width="2"/>
<rect x="392.8" y="1394.8" width="9.4" height="9.4" fill="#e3301f"/>
<rect x="429.55" y="1507.8" width="9.4" height="9.4" fill="#e3301f"/>
<rect x="465.8" y="1520.3" width="9.4" height="9.4" fill="#e3301f"/>
<rect x="501.8" y="1523.55" width="9.4" height="9.4" fill="#e3301f"/>
<line x1="485" y1="1275.5" x2="518" y2="1275.5" stroke="#14379a" stroke-width="2.2"/>
<circle cx="501.25" cy="1275.5" r="4.7" fill="#2146a2"/>
<text transform="translate(524.3 1280) scale(1.0000 1.0700)" font-size="21.72" fill="#000">shcon</text>
<line x1="485" y1="1312.5" x2="518" y2="1312.5" stroke="#e8281c" stroke-width="2.2"/>
<rect x="496.85" y="1308.1" width="8.8" height="8.8" fill="#e3301f"/>
<text transform="translate(524.3 1317.5) scale(1.0000 1.0700)" font-size="21.39" fill="#000">shENO1</text>
<text transform="translate(44 1466.25) rotate(-90.000) scale(0.9657 1)" x="-1.85" y="0" fill="#000"><tspan font-size="22.6">ECAR(mPH/min)</tspan></text>
<rect x="826.25" y="1446.75" width="45.5" height="108.5" fill="#0b0707"/>
<rect x="895" y="1468.75" width="45.75" height="86.5" fill="#aeadb1"/>
<rect x="1010" y="1346.5" width="46" height="208.75" fill="#0b0707"/>
<rect x="1079" y="1430.5" width="46.5" height="124.75" fill="#aeadb1"/>
<rect x="1194.5" y="1455.8" width="45.7" height="99.45" fill="#0b0707"/>
<rect x="1264.1" y="1517.4" width="45.4" height="37.85" fill="#aeadb1"/>
<line x1="836.75" y1="1443.25" x2="860.5" y2="1443.25" stroke="#000" stroke-width="2.2"/>
<line x1="848.62" y1="1443.25" x2="848.62" y2="1447.25" stroke="#000" stroke-width="2.2"/>
<line x1="906.25" y1="1464.5" x2="930" y2="1464.5" stroke="#000" stroke-width="2.2"/>
<line x1="918.12" y1="1464.5" x2="918.12" y2="1469.25" stroke="#000" stroke-width="2.2"/>
<line x1="1020.5" y1="1341" x2="1045.2" y2="1341" stroke="#000" stroke-width="2.2"/>
<line x1="1032.85" y1="1341" x2="1032.85" y2="1347" stroke="#000" stroke-width="2.2"/>
<line x1="1090.4" y1="1425" x2="1114.8" y2="1425" stroke="#000" stroke-width="2.2"/>
<line x1="1102.6" y1="1425" x2="1102.6" y2="1431" stroke="#000" stroke-width="2.2"/>
<line x1="1205.1" y1="1452.3" x2="1229.6" y2="1452.3" stroke="#000" stroke-width="2.2"/>
<line x1="1217.35" y1="1452.3" x2="1217.35" y2="1456.3" stroke="#000" stroke-width="2.2"/>
<line x1="1274.7" y1="1516.1" x2="1298.6" y2="1516.1" stroke="#000" stroke-width="2.2"/>
<line x1="1286.65" y1="1516.1" x2="1286.65" y2="1517.9" stroke="#000" stroke-width="2.2"/>
<line x1="790.75" y1="1249.4" x2="790.75" y2="1556.35" stroke="#000" stroke-width="2.2"/>
<line x1="785.5" y1="1555.25" x2="1345.1" y2="1555.25" stroke="#000" stroke-width="2.2"/>
<line x1="785.75" y1="1250.5" x2="790.75" y2="1250.5" stroke="#000" stroke-width="2.2"/>
<line x1="785.75" y1="1352" x2="790.75" y2="1352" stroke="#000" stroke-width="2.2"/>
<line x1="785.75" y1="1453.75" x2="790.75" y2="1453.75" stroke="#000" stroke-width="2.2"/>
<line x1="785.75" y1="1555.25" x2="790.75" y2="1555.25" stroke="#000" stroke-width="2.2"/>
<line x1="883" y1="1555.25" x2="883" y2="1560.25" stroke="#000" stroke-width="2.2"/>
<line x1="1067.6" y1="1555.25" x2="1067.6" y2="1560.25" stroke="#000" stroke-width="2.2"/>
<line x1="1252.2" y1="1555.25" x2="1252.2" y2="1560.25" stroke="#000" stroke-width="2.2"/>
<text transform="translate(742.09 1255.5) scale(1.0000 1.0700)" font-size="22.5" fill="#000">150</text>
<text transform="translate(742.09 1358.25) scale(1.0000 1.0700)" font-size="22.5" fill="#000">100</text>
<text transform="translate(754.6 1460.75) scale(1.0000 1.0700)" font-size="22.5" fill="#000">50</text>
<text transform="translate(767.62 1563.25) scale(1.0000 1.0700)" font-size="22.5" fill="#000">0</text>
<text transform="translate(804.26 1585) scale(1.0000 1.0700)" font-size="22.76" fill="#000">Glycolysis</text>
<text transform="translate(951.62 1585.6) scale(1.0000 1.0700)" font-size="21.38" fill="#000">Glycolytic Capacity</text>
<text transform="translate(1159.25 1585.1) scale(1.0000 1.0700)" font-size="22.79" fill="#000">Glycolytic Reserve</text>
<line x1="843.75" y1="1428.25" x2="925" y2="1428.25" stroke="#000" stroke-width="2.2"/>
<text transform="translate(881.25 1410.2) scale(1.130 0.900)" x="-8.72" y="15.41" font-size="22.4" fill="#000">**</text>
<line x1="1028.5" y1="1328.8" x2="1109.5" y2="1328.8" stroke="#000" stroke-width="2.2"/>
<text transform="translate(1067.6 1312) scale(1.130 0.900)" x="-13.08" y="15.41" font-size="22.4" fill="#000">***</text>
<line x1="1216.6" y1="1444.4" x2="1298.1" y2="1444.4" stroke="#000" stroke-width="2.2"/>
<text transform="translate(1249.8 1425.7) scale(1.130 0.900)" x="-13.08" y="15.41" font-size="22.4" fill="#000">***</text>
<text transform="translate(800.38 1276.25) scale(1.0000 1.0700)" font-size="21.58" fill="#000">PAMC-82</text>
<rect x="1168.8" y="1262.4" width="39.8" height="7.4" fill="#0b0707"/>
<text transform="translate(1223.5 1270.4) scale(1.0000 1.0700)" font-size="21.66" fill="#000">shcon</text>
<rect x="1168.8" y="1294.5" width="39.8" height="7.2" fill="#aeadb1"/>
<text transform="translate(1223.5 1305.7) scale(1.0000 1.0700)" font-size="21.53" fill="#000">shENO1</text>
<text transform="translate(735 1459) rotate(-90.000) scale(0.8948 1)" x="-1.87" y="0" fill="#000"><tspan font-size="22.8">ECAR(mPH/min)</tspan></text>
<line x1="107" y1="1680.9" x2="107" y2="1985.35" stroke="#000" stroke-width="2.2"/>
<line x1="98.25" y1="1984.25" x2="559.5" y2="1984.25" stroke="#000" stroke-width="2.2"/>
<line x1="98.3" y1="1682" x2="107" y2="1682" stroke="#000" stroke-width="2.2"/>
<line x1="98.3" y1="1743" x2="107" y2="1743" stroke="#000" stroke-width="2.2"/>
<line x1="98.3" y1="1803.25" x2="107" y2="1803.25" stroke="#000" stroke-width="2.2"/>
<line x1="98.3" y1="1863" x2="107" y2="1863" stroke="#000" stroke-width="2.2"/>
<line x1="98.3" y1="1923.25" x2="107" y2="1923.25" stroke="#000" stroke-width="2.2"/>
<line x1="98.3" y1="1984.25" x2="107" y2="1984.25" stroke="#000" stroke-width="2.2"/>
<line x1="107" y1="1984.25" x2="107" y2="1989.25" stroke="#000" stroke-width="2.2"/>
<line x1="219.5" y1="1984.25" x2="219.5" y2="1989.25" stroke="#000" stroke-width="2.2"/>
<line x1="333" y1="1984.25" x2="333" y2="1989.25" stroke="#000" stroke-width="2.2"/>
<line x1="445.5" y1="1984.25" x2="445.5" y2="1989.25" stroke="#000" stroke-width="2.2"/>
<line x1="559.5" y1="1984.25" x2="559.5" y2="1989.25" stroke="#000" stroke-width="2.2"/>
<text transform="translate(55.18 1687.5) scale(1.0000 1.0700)" font-size="22.6" fill="#000">100</text>
<text transform="translate(64.49 1747.5) scale(1.0000 1.0700)" font-size="22.6" fill="#000">80</text>
<text transform="translate(64.49 1807.5) scale(1.0000 1.0700)" font-size="22.6" fill="#000">60</text>
<text transform="translate(64.49 1867.5) scale(1.0000 1.0700)" font-size="22.6" fill="#000">40</text>
<text transform="translate(64.49 1928.25) scale(1.0000 1.0700)" font-size="22.6" fill="#000">20</text>
<text transform="translate(74.56 1988.25) scale(1.0000 1.0700)" font-size="22.6" fill="#000">0</text>
<text transform="translate(98.44 2015.75) scale(1.0000 1.0700)" font-size="23.6" fill="#000">0</text>
<text transform="translate(207.26 2015.75) scale(1.0000 1.0700)" font-size="22.68" fill="#000">20</text>
<text transform="translate(321.14 2015.75) scale(1.0000 1.0700)" font-size="22.33" fill="#000">40</text>
<text transform="translate(433.5 2015.75) scale(1.0000 1.0700)" font-size="22.69" fill="#000">60</text>
<text transform="translate(547.43 2015.75) scale(1.0000 1.0700)" font-size="22.29" fill="#000">80</text>
<text transform="translate(232.92 2046.25) scale(1.0000 1.0700)" font-size="21.52" fill="#000">Time(minutes)</text>
<text transform="translate(127.4 1708) scale(1.0000 1.0700)" font-size="21.92" fill="#000">SNU16</text>
<text transform="translate(199.87 1748) scale(1.0000 1.0700)" font-size="21.71" fill="#000">Oligomycin</text>
<text transform="translate(168.81 1803) scale(1.0000 1.0700)" font-size="21.74" fill="#000">Glucose</text>
<text transform="translate(375.52 1663.75) scale(1.0000 1.0700)" font-size="22.5" fill="#000">2-DG</text>
<line x1="188.25" y1="1822.5" x2="188.25" y2="1859" stroke="#000" stroke-width="2.2"/>
<path d="M181.65 1858L194.85 1858L188.25 1870.5Z" fill="#000"/>
<line x1="294" y1="1768.75" x2="294" y2="1804.75" stroke="#000" stroke-width="2.2"/>
<path d="M287.4 1803.75L300.6 1803.75L294 1816.25Z" fill="#000"/>
<line x1="416.25" y1="1670.5" x2="416.25" y2="1706.5" stroke="#000" stroke-width="2.2"/>
<path d="M409.65 1705.5L422.85 1705.5L416.25 1718Z" fill="#000"/>
<polyline points="114.5,1942 150.5,1944.5 186.75,1943 224.5,1894.5 260.75,1889.5 297.25,1885.75 334.25,1800.75 371.25,1788.75 407.5,1788.75 444.5,1922 481.25,1933 518,1934" fill="none" stroke="#14379a" stroke-width="2.4" stroke-linejoin="round"/>
<path d="M114.5 1937V1947M109.3 1937H119.7M109.3 1947H119.7" stroke="#2146a2" stroke-width="2"/>
<circle cx="114.5" cy="1942" r="4.7" fill="#2146a2"/>
<circle cx="150.5" cy="1944.5" r="4.7" fill="#2146a2"/>
<circle cx="186.75" cy="1943" r="4.7" fill="#2146a2"/>
<path d="M224.5 1886.6V1902.4M219.3 1886.6H229.7M219.3 1902.4H229.7" stroke="#2146a2" stroke-width="2"/>
<circle cx="224.5" cy="1894.5" r="4.7" fill="#2146a2"/>
<path d="M260.75 1881.6V1897.4M255.55 1881.6H265.95M255.55 1897.4H265.95" stroke="#2146a2" stroke-width="2"/>
<circle cx="260.75" cy="1889.5" r="4.7" fill="#2146a2"/>
<path d="M297.25 1877.15V1894.35M292.05 1877.15H302.45M292.05 1894.35H302.45" stroke="#2146a2" stroke-width="2"/>
<circle cx="297.25" cy="1885.75" r="4.7" fill="#2146a2"/>
<path d="M334.25 1787.75V1813.75M329.05 1787.75H339.45M329.05 1813.75H339.45" stroke="#2146a2" stroke-width="2"/>
<circle cx="334.25" cy="1800.75" r="4.7" fill="#2146a2"/>
<path d="M371.25 1773.25V1804.25M366.05 1773.25H376.45M366.05 1804.25H376.45" stroke="#2146a2" stroke-width="2"/>
<circle cx="371.25" cy="1788.75" r="4.7" fill="#2146a2"/>
<path d="M407.5 1773.25V1804.25M402.3 1773.25H412.7M402.3 1804.25H412.7" stroke="#2146a2" stroke-width="2"/>
<circle cx="407.5" cy="1788.75" r="4.7" fill="#2146a2"/>
<path d="M444.5 1916.5V1927.5M439.3 1916.5H449.7M439.3 1927.5H449.7" stroke="#2146a2" stroke-width="2"/>
<circle cx="444.5" cy="1922" r="4.7" fill="#2146a2"/>
<circle cx="481.25" cy="1933" r="4.7" fill="#2146a2"/>
<circle cx="518" cy="1934" r="4.7" fill="#2146a2"/>
<polyline points="114.5,1940.75 150.5,1943.75 186.75,1942 224.5,1868 260.75,1864.5 297.25,1860 334.25,1748.75 371.25,1743.25 407.5,1744.5 444.5,1901.75 481.25,1920.75 518,1920" fill="none" stroke="#e8281c" stroke-width="2.4" stroke-linejoin="round"/>
<path d="M114.5 1936.75V1944.75M109.3 1936.75H119.7M109.3 1944.75H119.7" stroke="#e3301f" stroke-width="2"/>
<rect x="109.8" y="1936.05" width="9.4" height="9.4" fill="#e3301f"/>
<rect x="145.8" y="1939.05" width="9.4" height="9.4" fill="#e3301f"/>
<rect x="182.05" y="1937.3" width="9.4" height="9.4" fill="#e3301f"/>
<path d="M224.5 1860V1876M219.3 1860H229.7M219.3 1876H229.7" stroke="#e3301f" stroke-width="2"/>
<rect x="219.8" y="1863.3" width="9.4" height="9.4" fill="#e3301f"/>
<path d="M260.75 1857.9V1871.1M255.55 1857.9H265.95M255.55 1871.1H265.95" stroke="#e3301f" stroke-width="2"/>
<rect x="256.05" y="1859.8" width="9.4" height="9.4" fill="#e3301f"/>
<path d="M297.25 1853.75V1866.25M292.05 1853.75H302.45M292.05 1866.25H302.45" stroke="#e3301f" stroke-width="2"/>
<rect x="292.55" y="1855.3" width="9.4" height="9.4" fill="#e3301f"/>
<path d="M334.25 1732.5V1765M329.05 1732.5H339.45M329.05 1765H339.45" stroke="#e3301f" stroke-width="2"/>
<rect x="329.55" y="1744.05" width="9.4" height="9.4" fill="#e3301f"/>
<path d="M371.25 1730.25V1756.25M366.05 1730.25H376.45M366.05 1756.25H376.45" stroke="#e3301f" stroke-width="2"/>
<rect x="366.55" y="1738.55" width="9.4" height="9.4" fill="#e3301f"/>
<path d="M407.5 1732.9V1756.1M402.3 1732.9H412.7M402.3 1756.1H412.7" stroke="#e3301f" stroke-width="2"/>
<rect x="402.8" y="1739.8" width="9.4" height="9.4" fill="#e3301f"/>
<path d="M444.5 1894.35V1909.15M439.3 1894.35H449.7M439.3 1909.15H449.7" stroke="#e3301f" stroke-width="2"/>
<rect x="439.8" y="1897.05" width="9.4" height="9.4" fill="#e3301f"/>
<rect x="476.55" y="1916.05" width="9.4" height="9.4" fill="#e3301f"/>
<rect x="513.3" y="1915.3" width="9.4" height="9.4" fill="#e3301f"/>
<line x1="484.5" y1="1698" x2="518" y2="1698" stroke="#14379a" stroke-width="2.2"/>
<circle cx="501.25" cy="1698" r="4.7" fill="#2146a2"/>
<text transform="translate(527.79 1706.25) scale(1.0000 1.0700)" font-size="22.62" fill="#000">NC</text>
<line x1="484.5" y1="1732.5" x2="518" y2="1732.5" stroke="#e8281c" stroke-width="2.2"/>
<rect x="496.85" y="1728.1" width="8.8" height="8.8" fill="#e3301f"/>
<text transform="translate(527.82 1743) scale(1.0000 1.0700)" font-size="22.35" fill="#000">ENO1</text>
<text transform="translate(44 1895) rotate(-90.000) scale(0.9731 1)" x="-1.85" y="0" fill="#000"><tspan font-size="22.6">ECAR(mPH/min)</tspan></text>
<rect x="828.25" y="1910.5" width="45.5" height="72.75" fill="#0b0707"/>
<rect x="897.5" y="1879.25" width="45.5" height="104" fill="#aeadb1"/>
<rect x="1012" y="1785.5" width="46.3" height="197.75" fill="#0b0707"/>
<rect x="1081.6" y="1729" width="46" height="254.25" fill="#aeadb1"/>
<rect x="1196.6" y="1871.8" width="45.7" height="111.45" fill="#0b0707"/>
<rect x="1265.7" y="1829.9" width="46.2" height="153.35" fill="#aeadb1"/>
<line x1="838.75" y1="1904.25" x2="863.25" y2="1904.25" stroke="#000" stroke-width="2.2"/>
<line x1="851" y1="1904.25" x2="851" y2="1911" stroke="#000" stroke-width="2.2"/>
<line x1="908.25" y1="1872" x2="932.5" y2="1872" stroke="#000" stroke-width="2.2"/>
<line x1="920.38" y1="1872" x2="920.38" y2="1879.75" stroke="#000" stroke-width="2.2"/>
<line x1="1023.2" y1="1770.7" x2="1047.1" y2="1770.7" stroke="#000" stroke-width="2.2"/>
<line x1="1035.15" y1="1770.7" x2="1035.15" y2="1786" stroke="#000" stroke-width="2.2"/>
<line x1="1092.8" y1="1713.6" x2="1116.7" y2="1713.6" stroke="#000" stroke-width="2.2"/>
<line x1="1104.75" y1="1713.6" x2="1104.75" y2="1729.5" stroke="#000" stroke-width="2.2"/>
<line x1="1207.3" y1="1863.8" x2="1231.7" y2="1863.8" stroke="#000" stroke-width="2.2"/>
<line x1="1219.5" y1="1863.8" x2="1219.5" y2="1872.3" stroke="#000" stroke-width="2.2"/>
<line x1="1276.3" y1="1819.8" x2="1300.8" y2="1819.8" stroke="#000" stroke-width="2.2"/>
<line x1="1288.55" y1="1819.8" x2="1288.55" y2="1830.4" stroke="#000" stroke-width="2.2"/>
<line x1="793.75" y1="1671.9" x2="793.75" y2="1984.35" stroke="#000" stroke-width="2.2"/>
<line x1="788.25" y1="1983.25" x2="1346" y2="1983.25" stroke="#000" stroke-width="2.2"/>
<line x1="788.75" y1="1673" x2="793.75" y2="1673" stroke="#000" stroke-width="2.2"/>
<line x1="788.75" y1="1750.75" x2="793.75" y2="1750.75" stroke="#000" stroke-width="2.2"/>
<line x1="788.75" y1="1828.5" x2="793.75" y2="1828.5" stroke="#000" stroke-width="2.2"/>
<line x1="788.75" y1="1905.75" x2="793.75" y2="1905.75" stroke="#000" stroke-width="2.2"/>
<line x1="788.75" y1="1983.25" x2="793.75" y2="1983.25" stroke="#000" stroke-width="2.2"/>
<line x1="885.5" y1="1983.25" x2="885.5" y2="1988.25" stroke="#000" stroke-width="2.2"/>
<line x1="1069.1" y1="1983.25" x2="1069.1" y2="1988.25" stroke="#000" stroke-width="2.2"/>
<line x1="1253.7" y1="1983.25" x2="1253.7" y2="1988.25" stroke="#000" stroke-width="2.2"/>
<text transform="translate(750.13 1678.25) scale(1.1800 1.0000)" font-size="22.6" fill="#000">80</text>
<text transform="translate(750.13 1756) scale(1.1800 1.0000)" font-size="22.6" fill="#000">60</text>
<text transform="translate(750.13 1833.75) scale(1.1800 1.0000)" font-size="22.6" fill="#000">40</text>
<text transform="translate(749.63 1912.25) scale(1.1800 1.0000)" font-size="22.6" fill="#000">20</text>
<text transform="translate(761.71 1989.25) scale(1.1800 1.0000)" font-size="22.6" fill="#000">0</text>
<text transform="translate(804.26 2013) scale(1.0000 1.0700)" font-size="22.76" fill="#000">Glycolysis</text>
<text transform="translate(951.62 2013) scale(1.0000 1.0700)" font-size="21.38" fill="#000">Glycolytic Capacity</text>
<text transform="translate(1159.25 2013.1) scale(1.0000 1.0700)" font-size="22.79" fill="#000">Glycolytic Reserve</text>
<line x1="835.5" y1="1853.75" x2="916.25" y2="1853.75" stroke="#000" stroke-width="2.2"/>
<text transform="translate(871.75 1833.45) scale(1.130 0.900)" x="-8.72" y="15.41" font-size="22.4" fill="#000">**</text>
<line x1="1028" y1="1699" x2="1108.2" y2="1699" stroke="#000" stroke-width="2.2"/>
<text transform="translate(1067 1676.9) scale(1.130 0.900)" x="-4.36" y="15.41" font-size="22.4" fill="#000">*</text>
<line x1="1212.6" y1="1804.7" x2="1292.8" y2="1804.7" stroke="#000" stroke-width="2.2"/>
<text transform="translate(1248.4 1785.8) scale(1.130 0.900)" x="-4.36" y="15.41" font-size="22.4" fill="#000">*</text>
<text transform="translate(818.16 1705.5) scale(1.0000 1.0700)" font-size="21.84" fill="#000">SNU16</text>
<rect x="1168.8" y="1683.8" width="39.8" height="7.2" fill="#0b0707"/>
<text transform="translate(1222.21 1693.9) scale(1.0000 1.0700)" font-size="23.03" fill="#000">NC</text>
<rect x="1168.8" y="1715.2" width="39.8" height="6.3" fill="#aeadb1"/>
<text transform="translate(1222.27 1725) scale(1.0000 1.0700)" font-size="22.26" fill="#000">ENO1</text>
<text transform="translate(735.3 1899) rotate(-90.000) scale(0.9670 1)" x="-1.86" y="0" fill="#000"><tspan font-size="22.7">ECAR(mPH/min)</tspan></text>
<line x1="102.5" y1="2098.9" x2="102.5" y2="2410.6" stroke="#000" stroke-width="2.2"/>
<line x1="97.5" y1="2409.5" x2="567" y2="2409.5" stroke="#000" stroke-width="2.2"/>
<line x1="97.5" y1="2100" x2="102.5" y2="2100" stroke="#000" stroke-width="2.2"/>
<line x1="97.5" y1="2162" x2="102.5" y2="2162" stroke="#000" stroke-width="2.2"/>
<line x1="97.5" y1="2223.75" x2="102.5" y2="2223.75" stroke="#000" stroke-width="2.2"/>
<line x1="97.5" y1="2285.5" x2="102.5" y2="2285.5" stroke="#000" stroke-width="2.2"/>
<line x1="97.5" y1="2347.5" x2="102.5" y2="2347.5" stroke="#000" stroke-width="2.2"/>
<line x1="97.5" y1="2409.5" x2="102.5" y2="2409.5" stroke="#000" stroke-width="2.2"/>
<line x1="102.5" y1="2409.5" x2="102.5" y2="2414.5" stroke="#000" stroke-width="2.2"/>
<line x1="218.75" y1="2409.5" x2="218.75" y2="2414.5" stroke="#000" stroke-width="2.2"/>
<line x1="334.5" y1="2409.5" x2="334.5" y2="2414.5" stroke="#000" stroke-width="2.2"/>
<line x1="450" y1="2409.5" x2="450" y2="2414.5" stroke="#000" stroke-width="2.2"/>
<line x1="567" y1="2409.5" x2="567" y2="2414.5" stroke="#000" stroke-width="2.2"/>
<text transform="translate(50.68 2105.5) scale(1.0000 1.0700)" font-size="22.6" fill="#000">100</text>
<text transform="translate(59.49 2167.25) scale(1.0000 1.0700)" font-size="22.6" fill="#000">80</text>
<text transform="translate(59.49 2228.5) scale(1.0000 1.0700)" font-size="22.6" fill="#000">60</text>
<text transform="translate(59.49 2291.75) scale(1.0000 1.0700)" font-size="22.6" fill="#000">40</text>
<text transform="translate(58.99 2353.5) scale(1.0000 1.0700)" font-size="22.6" fill="#000">20</text>
<text transform="translate(69.56 2415.25) scale(1.0000 1.0700)" font-size="22.6" fill="#000">0</text>
<text transform="translate(97.56 2437) scale(1.0000 1.0700)" font-size="23.6" fill="#000">0</text>
<text transform="translate(208.75 2437) scale(1.0000 1.0700)" font-size="22.92" fill="#000">20</text>
<text transform="translate(324.87 2437) scale(1.0000 1.0700)" font-size="23.04" fill="#000">40</text>
<text transform="translate(440.47 2437) scale(1.0000 1.0700)" font-size="23.18" fill="#000">60</text>
<text transform="translate(557.4 2437) scale(1.0000 1.0700)" font-size="23.01" fill="#000">80</text>
<text transform="translate(287.92 2463.25) scale(1.0000 1.0700)" font-size="21.52" fill="#000">Time(minutes)</text>
<text transform="translate(123.65 2113) scale(1.0000 1.0700)" font-size="21.92" fill="#000">SNU16</text>
<text transform="translate(198.12 2167) scale(1.0000 1.0700)" font-size="21.82" fill="#000">Oligomycin</text>
<text transform="translate(166.31 2224.5) scale(1.0000 1.0700)" font-size="21.74" fill="#000">Glucose</text>
<text transform="translate(395.52 2097.5) scale(1.0000 1.0700)" font-size="22.5" fill="#000">2-DG</text>
<line x1="185.75" y1="2244" x2="185.75" y2="2281.5" stroke="#000" stroke-width="2.2"/>
<path d="M179.15 2280.5L192.35 2280.5L185.75 2293Z" fill="#000"/>
<line x1="294.75" y1="2188.75" x2="294.75" y2="2225.75" stroke="#000" stroke-width="2.2"/>
<path d="M288.15 2224.75L301.35 2224.75L294.75 2237.25Z" fill="#000"/>
<line x1="420" y1="2113" x2="420" y2="2149.75" stroke="#000" stroke-width="2.2"/>
<path d="M413.4 2148.75L426.6 2148.75L420 2161.25Z" fill="#000"/>
<polyline points="110,2362.5 147.5,2363.75 185,2362.5 223,2287 260.5,2286.25 297.75,2283.25 336.75,2179.5 373.75,2173.25 411.25,2174.5 450,2320 486.75,2343.75 524.5,2348" fill="none" stroke="#14379a" stroke-width="2.4" stroke-linejoin="round"/>
<circle cx="110" cy="2362.5" r="4.7" fill="#2146a2"/>
<circle cx="147.5" cy="2363.75" r="4.7" fill="#2146a2"/>
<circle cx="185" cy="2362.5" r="4.7" fill="#2146a2"/>
<circle cx="223" cy="2287" r="4.7" fill="#2146a2"/>
<circle cx="260.5" cy="2286.25" r="4.7" fill="#2146a2"/>
<circle cx="297.75" cy="2283.25" r="4.7" fill="#2146a2"/>
<path d="M336.75 2170.75V2188.25M331.55 2170.75H341.95M331.55 2188.25H341.95" stroke="#2146a2" stroke-width="2"/>
<circle cx="336.75" cy="2179.5" r="4.7" fill="#2146a2"/>
<circle cx="373.75" cy="2173.25" r="4.7" fill="#2146a2"/>
<circle cx="411.25" cy="2174.5" r="4.7" fill="#2146a2"/>
<path d="M450 2315V2325M444.8 2315H455.2M444.8 2325H455.2" stroke="#2146a2" stroke-width="2"/>
<circle cx="450" cy="2320" r="4.7" fill="#2146a2"/>
<circle cx="486.75" cy="2343.75" r="4.7" fill="#2146a2"/>
<circle cx="524.5" cy="2348" r="4.7" fill="#2146a2"/>
<polyline points="110,2375.75 147.5,2376.75 185,2374.5 223,2320.75 260.5,2322 297.75,2319.25 336.75,2234.5 373.75,2238.75 411.25,2239.25 450,2335.75 486.75,2354.5 524.5,2356.25" fill="none" stroke="#e8281c" stroke-width="2.4" stroke-linejoin="round"/>
<rect x="105.3" y="2371.05" width="9.4" height="9.4" fill="#e3301f"/>
<rect x="142.8" y="2372.05" width="9.4" height="9.4" fill="#e3301f"/>
<rect x="180.3" y="2369.8" width="9.4" height="9.4" fill="#e3301f"/>
<path d="M223 2313.25V2328.25M217.8 2313.25H228.2M217.8 2328.25H228.2" stroke="#e3301f" stroke-width="2"/>
<rect x="218.3" y="2316.05" width="9.4" height="9.4" fill="#e3301f"/>
<path d="M260.5 2314.5V2329.5M255.3 2314.5H265.7M255.3 2329.5H265.7" stroke="#e3301f" stroke-width="2"/>
<rect x="255.8" y="2317.3" width="9.4" height="9.4" fill="#e3301f"/>
<path d="M297.75 2312.25V2326.25M292.55 2312.25H302.95M292.55 2326.25H302.95" stroke="#e3301f" stroke-width="2"/>
<rect x="293.05" y="2314.55" width="9.4" height="9.4" fill="#e3301f"/>
<path d="M336.75 2220.1V2248.9M331.55 2220.1H341.95M331.55 2248.9H341.95" stroke="#e3301f" stroke-width="2"/>
<rect x="332.05" y="2229.8" width="9.4" height="9.4" fill="#e3301f"/>
<path d="M373.75 2225.25V2252.25M368.55 2225.25H378.95M368.55 2252.25H378.95" stroke="#e3301f" stroke-width="2"/>
<rect x="369.05" y="2234.05" width="9.4" height="9.4" fill="#e3301f"/>
<path d="M411.25 2225.75V2252.75M406.05 2225.75H416.45M406.05 2252.75H416.45" stroke="#e3301f" stroke-width="2"/>
<rect x="406.55" y="2234.55" width="9.4" height="9.4" fill="#e3301f"/>
<path d="M450 2329.15V2342.35M444.8 2329.15H455.2M444.8 2342.35H455.2" stroke="#e3301f" stroke-width="2"/>
<rect x="445.3" y="2331.05" width="9.4" height="9.4" fill="#e3301f"/>
<path d="M486.75 2349.5V2359.5M481.55 2349.5H491.95M481.55 2359.5H491.95" stroke="#e3301f" stroke-width="2"/>
<rect x="482.05" y="2349.8" width="9.4" height="9.4" fill="#e3301f"/>
<rect x="519.8" y="2351.55" width="9.4" height="9.4" fill="#e3301f"/>
<line x1="481.75" y1="2116.25" x2="516.25" y2="2116.25" stroke="#14379a" stroke-width="2.2"/>
<circle cx="498.75" cy="2116.25" r="4.7" fill="#2146a2"/>
<text transform="translate(534.29 2121.25) scale(1.0000 1.0700)" font-size="21.92" fill="#000">shcon</text>
<line x1="481.75" y1="2151.75" x2="516.25" y2="2151.75" stroke="#e8281c" stroke-width="2.2"/>
<rect x="494.35" y="2147.35" width="8.8" height="8.8" fill="#e3301f"/>
<text transform="translate(534.3 2157) scale(1.0000 1.0700)" font-size="21.39" fill="#000">shENO1</text>
<text transform="translate(45.8 2334.6) rotate(-90.000) scale(0.9653 1)" x="-1.86" y="0" fill="#000"><tspan font-size="22.7">ECAR(mPH/min)</tspan></text>
<rect x="830.5" y="2310" width="45.25" height="99.5" fill="#0b0707"/>
<rect x="899.25" y="2340.5" width="45.25" height="69" fill="#aeadb1"/>
<rect x="1012.6" y="2170.8" width="45.7" height="238.7" fill="#0b0707"/>
<rect x="1081.1" y="2232.6" width="45.7" height="176.9" fill="#aeadb1"/>
<rect x="1195" y="2271.3" width="45.5" height="138.2" fill="#0b0707"/>
<rect x="1263.6" y="2302.4" width="45.1" height="107.1" fill="#aeadb1"/>
<line x1="841.25" y1="2306.75" x2="865" y2="2306.75" stroke="#000" stroke-width="2.2"/>
<line x1="853.12" y1="2306.75" x2="853.12" y2="2310.5" stroke="#000" stroke-width="2.2"/>
<line x1="910" y1="2334.5" x2="933.75" y2="2334.5" stroke="#000" stroke-width="2.2"/>
<line x1="921.88" y1="2334.5" x2="921.88" y2="2341" stroke="#000" stroke-width="2.2"/>
<line x1="1023.7" y1="2167" x2="1047.1" y2="2167" stroke="#000" stroke-width="2.2"/>
<line x1="1035.4" y1="2167" x2="1035.4" y2="2171.3" stroke="#000" stroke-width="2.2"/>
<line x1="1092.3" y1="2216.7" x2="1115.6" y2="2216.7" stroke="#000" stroke-width="2.2"/>
<line x1="1103.95" y1="2216.7" x2="1103.95" y2="2233.1" stroke="#000" stroke-width="2.2"/>
<line x1="1205.7" y1="2267.6" x2="1229.8" y2="2267.6" stroke="#000" stroke-width="2.2"/>
<line x1="1217.75" y1="2267.6" x2="1217.75" y2="2271.8" stroke="#000" stroke-width="2.2"/>
<line x1="1274.7" y1="2292.3" x2="1298.1" y2="2292.3" stroke="#000" stroke-width="2.2"/>
<line x1="1286.4" y1="2292.3" x2="1286.4" y2="2302.9" stroke="#000" stroke-width="2.2"/>
<line x1="795.75" y1="2095.65" x2="795.75" y2="2410.6" stroke="#000" stroke-width="2.2"/>
<line x1="790.5" y1="2409.5" x2="1344" y2="2409.5" stroke="#000" stroke-width="2.2"/>
<line x1="790.75" y1="2096.75" x2="795.75" y2="2096.75" stroke="#000" stroke-width="2.2"/>
<line x1="790.75" y1="2175" x2="795.75" y2="2175" stroke="#000" stroke-width="2.2"/>
<line x1="790.75" y1="2253.25" x2="795.75" y2="2253.25" stroke="#000" stroke-width="2.2"/>
<line x1="790.75" y1="2331.75" x2="795.75" y2="2331.75" stroke="#000" stroke-width="2.2"/>
<line x1="790.75" y1="2409.5" x2="795.75" y2="2409.5" stroke="#000" stroke-width="2.2"/>
<line x1="887" y1="2409.5" x2="887" y2="2414.5" stroke="#000" stroke-width="2.2"/>
<line x1="1069.1" y1="2409.5" x2="1069.1" y2="2414.5" stroke="#000" stroke-width="2.2"/>
<line x1="1252.2" y1="2409.5" x2="1252.2" y2="2414.5" stroke="#000" stroke-width="2.2"/>
<text transform="translate(757.11 2104.5) scale(1.1500 1.0000)" font-size="22.6" fill="#000">80</text>
<text transform="translate(756.61 2182.5) scale(1.1500 1.0000)" font-size="22.6" fill="#000">60</text>
<text transform="translate(756.61 2260.25) scale(1.1500 1.0000)" font-size="22.6" fill="#000">40</text>
<text transform="translate(755.86 2338.75) scale(1.1500 1.0000)" font-size="22.6" fill="#000">20</text>
<text transform="translate(769.06 2417) scale(1.1500 1.0000)" font-size="22.6" fill="#000">0</text>
<text transform="translate(804.26 2437.5) scale(1.0000 1.0700)" font-size="22.76" fill="#000">Glycolysis</text>
<text transform="translate(951.62 2437) scale(1.0000 1.0700)" font-size="21.38" fill="#000">Glycolytic Capacity</text>
<text transform="translate(1159.25 2437.1) scale(1.0000 1.0700)" font-size="22.79" fill="#000">Glycolytic Reserve</text>
<line x1="837.5" y1="2279.25" x2="917.5" y2="2279.25" stroke="#000" stroke-width="2.2"/>
<text transform="translate(879.25 2262.2) scale(1.130 0.900)" x="-8.72" y="15.41" font-size="22.4" fill="#000">**</text>
<line x1="1030.6" y1="2151.1" x2="1111.4" y2="2151.1" stroke="#000" stroke-width="2.2"/>
<text transform="translate(1067 2130.1) scale(1.130 0.900)" x="-8.72" y="15.41" font-size="22.4" fill="#000">**</text>
<line x1="1211" y1="2238.7" x2="1290.1" y2="2238.7" stroke="#000" stroke-width="2.2"/>
<text transform="translate(1249 2220.4) scale(1.130 0.900)" x="-4.36" y="15.41" font-size="22.4" fill="#000">*</text>
<text transform="translate(829.4 2128.75) scale(1.0000 1.0700)" font-size="21.92" fill="#000">SNU16</text>
<rect x="1180.4" y="2125.6" width="39.3" height="6.6" fill="#0b0707"/>
<text transform="translate(1234.69 2132.2) scale(1.0000 1.0700)" font-size="21.86" fill="#000">shcon</text>
<rect x="1180.4" y="2157.7" width="39.3" height="6.4" fill="#aeadb1"/>
<text transform="translate(1234.7 2167.6) scale(1.0000 1.0700)" font-size="21.53" fill="#000">shENO1</text>
<text transform="translate(746.6 2328.1) rotate(-90.000) scale(0.9665 1)" x="-1.86" y="0" fill="#000"><tspan font-size="22.7">ECAR(mPH/min)</tspan></text></svg>
</body></html>
